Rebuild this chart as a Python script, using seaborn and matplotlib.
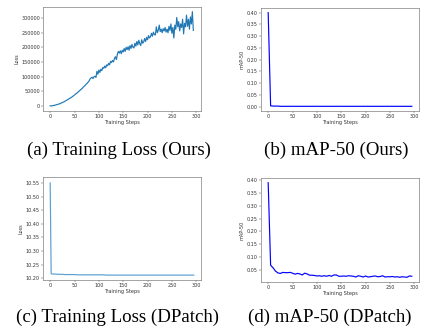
import numpy as np
import pandas as pd
import matplotlib
matplotlib.use("Agg")
import matplotlib.pyplot as plt
import seaborn as sns

# ---- data -------------------------------------------------------------
# (a) training loss of our patch, sampled every 2 steps (values in thousands)
ours_loss_steps = list(range(0, 296, 2))
ours_loss_k = [
    0, -1, 0, 1, 1, 2, 3, 4, 5, 6, 7, 9, 10, 12, 13, 15, 17, 19, 21, 23,
    25, 27, 29, 32, 34, 37, 40, 42, 45, 48, 51, 54, 57, 60, 64, 67, 70, 74, 77, 81,
    85, 92, 95, 98, 93, 99, 101, 97, 118, 108, 122, 114, 125, 120, 131, 128, 136, 130, 140, 137,
    145, 140, 152, 148, 155, 150, 162, 168, 158, 176, 186, 180, 188, 178, 190, 184, 196, 186, 200, 192,
    202, 190, 206, 196, 210, 200, 198, 214, 204, 220, 208, 224, 212, 206, 226, 214, 218, 230, 220, 234,
    226, 240, 232, 236, 248, 238, 252, 244, 242, 270, 250, 258, 276, 254, 262, 250, 264, 256, 268, 252,
    262, 250, 272, 258, 280, 248, 268, 232, 276, 262, 302, 270, 288, 256, 280, 268, 296, 246, 282, 270,
    310, 272, 296, 262, 304, 280, 322, 258,
]
ours_loss = [v * 1000 for v in ours_loss_k]

# (b) mAP-50 under our patch, every 5 steps
map_steps = list(range(0, 296, 5))
ours_map = [0.40, 0.003, 0.002, 0.002, 0.002] + [0.001] * 55

# (c) training loss of DPatch
dpatch_loss_steps = [0, 2] + list(range(5, 296, 5))
dpatch_loss = [
    10.55, 10.216, 10.215, 10.215, 10.214, 10.214, 10.214, 10.213, 10.213, 10.213,
    10.213, 10.213, 10.212, 10.212, 10.212, 10.212, 10.212, 10.212, 10.212, 10.212,
    10.212, 10.212, 10.212, 10.212, 10.211, 10.211, 10.211, 10.211, 10.211, 10.211,
    10.211, 10.211, 10.211, 10.211, 10.211, 10.211, 10.211, 10.211, 10.211, 10.211,
    10.211, 10.211, 10.211, 10.211, 10.211, 10.211, 10.211, 10.211, 10.211, 10.211,
    10.211, 10.211, 10.211, 10.211, 10.211, 10.211, 10.211, 10.211, 10.211, 10.211,
    10.211,
]

# (d) mAP-50 under DPatch, every 5 steps
dpatch_map = [
    0.39, 0.068, 0.058, 0.045, 0.038, 0.036, 0.040, 0.039, 0.039, 0.040,
    0.037, 0.033, 0.036, 0.034, 0.030, 0.037, 0.034, 0.029, 0.029, 0.028,
    0.026, 0.027, 0.025, 0.027, 0.025, 0.028, 0.025, 0.030, 0.030, 0.025,
    0.025, 0.026, 0.025, 0.027, 0.026, 0.025, 0.022, 0.027, 0.025, 0.022,
    0.026, 0.022, 0.023, 0.025, 0.026, 0.023, 0.024, 0.027, 0.022, 0.023,
    0.023, 0.024, 0.022, 0.023, 0.021, 0.023, 0.022, 0.021, 0.026, 0.025,
]

captions = [
    "(a) Training Loss (Ours)",
    "(b) mAP-50 (Ours)",
    "(c) Training Loss (DPatch)",
    "(d) mAP-50 (DPatch)",
]
ylabels = ["Loss", "mAP-50", "Loss", "mAP-50"]

# ---- figure -----------------------------------------------------------
W, H = 441, 336
fig = plt.figure(figsize=(W / 100, H / 100), dpi=100)
fig.patch.set_facecolor("white")


def make_axes(left, right, top, bottom):
    return fig.add_axes([left / W, 1 - bottom / H, (right - left) / W, (bottom - top) / H])


boxes = [(43, 201, 7, 111), (261, 419, 8, 111), (43, 201, 177, 280), (261, 419, 178, 282)]
series = [
    (ours_loss_steps, ours_loss, "#1f77b4"),
    (map_steps, ours_map, "blue"),
    (dpatch_loss_steps, dpatch_loss, "#5a9fd0"),
    (map_steps, dpatch_map, "blue"),
]

for (l, r, t, b), (xs, ys, col), yl in zip(boxes, series, ylabels):
    ax = make_axes(l, r, t, b)
    df = pd.DataFrame({"Training Steps": xs, yl: ys})
    sns.lineplot(data=df, x="Training Steps", y=yl, ax=ax, color=col, linewidth=0.85)
    ax.set_xlim(-14.75, 309.75)
    ax.set_xticks([0, 50, 100, 150, 200, 250, 300])
    ax.tick_params(labelsize=3.5, length=1.2, width=0.3, pad=1, colors="#333333")
    ax.set_xlabel("Training Steps", fontsize=3.6, labelpad=1, color="#333333")
    ax.set_ylabel(yl, fontsize=3.6, labelpad=1.5, color="#333333")
    for s in ax.spines.values():
        s.set_linewidth(0.5)
        s.set_color("#808080")

fig.axes[0].set_ylim(-18000, 338000)
fig.axes[1].set_yticks(np.arange(0, 0.41, 0.05))
fig.axes[2].set_ylim(10.193, 10.572)
fig.axes[2].set_yticks(np.arange(10.20, 10.56, 0.05))
fig.axes[3].set_yticks(np.arange(0.05, 0.41, 0.05))

cap_pos = [(118.5, 150), (336.5, 150), (117.5, 317), (330, 317)]
for (cx, cy), txt in zip(cap_pos, captions):
    fig.text(cx / W, 1 - cy / H, txt, ha="center", va="center",
             fontsize=13.6, family="Liberation Serif", color="black")

fig.savefig("out.png", dpi=100, facecolor="white")
